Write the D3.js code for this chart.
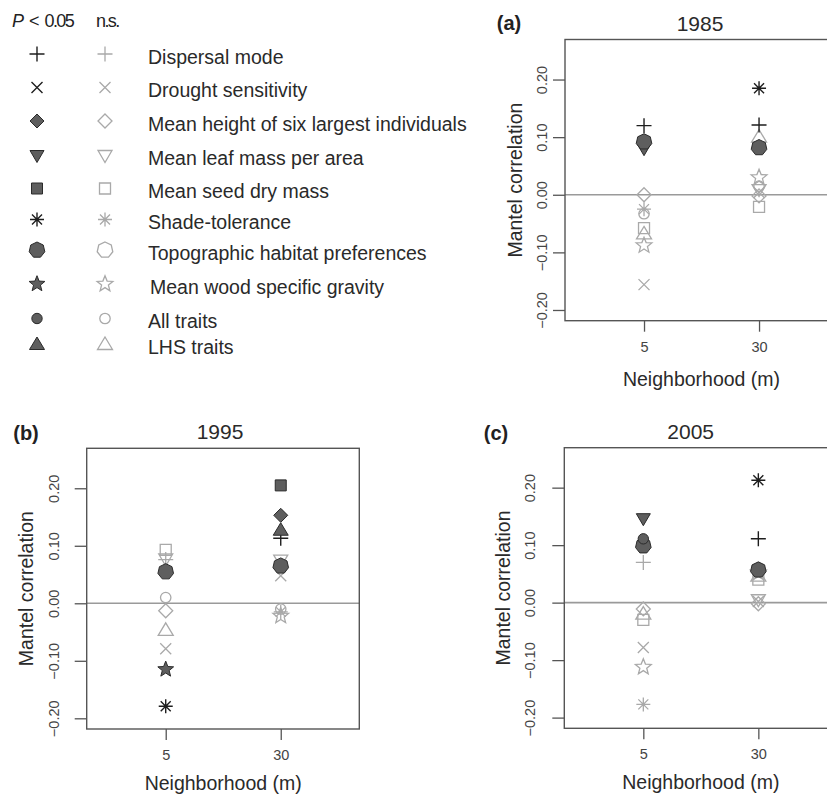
<!DOCTYPE html>
<html>
<head>
<meta charset="utf-8">
<script src="https://cdn.jsdelivr.net/npm/d3@7"></script>
<style>
  body { margin: 0; background: #fff; }
  svg { display: block; font-family: "Liberation Sans", Arial, Helvetica, sans-serif; }
</style>
</head>
<body>
<script>
// traits, in legend order
const traits = ["Dispersal mode", "Drought sensitivity", "Mean height of six largest individuals",
  "Mean leaf mass per area", "Mean seed dry mass", "Shade-tolerance",
  "Topographic habitat preferences", "Mean wood specific gravity", "All traits", "LHS traits"];
const shapes = ["plus", "cross", "diamond", "triDown", "square", "asterisk", "hepta", "star", "circle", "triUp"];
const neighborhoods = ["5", "30"];
const years = ["1985", "1995", "2005"];
const letters = ["(a)", "(b)", "(c)"];
const yTicks = [-0.2, -0.1, 0, 0.1, 0.2];

// Mantel correlations, [5 m, 30 m], one value per trait
const mantel1985 = [
  [0.120, -0.156, 0.000, 0.080, -0.058, -0.025, 0.092, -0.088, -0.033, -0.068],
  [0.121, 0.004, -0.002, 0.009, -0.021, 0.185, 0.082, 0.030, 0.015, 0.100]
];
const sig1985 = [
  [1, 0, 0, 1, 0, 0, 1, 0, 0, 0],
  [1, 0, 0, 0, 0, 1, 1, 0, 0, 0]
];
const mantel1995 = [
  [0.076, -0.079, -0.013, 0.077, 0.093, -0.179, 0.055, -0.115, 0.010, -0.047],
  [0.113, 0.048, 0.153, 0.075, 0.205, -0.015, 0.065, -0.022, -0.010, 0.127]
];
const sig1995 = [
  [0, 0, 0, 0, 0, 1, 1, 1, 0, 0],
  [1, 0, 1, 0, 1, 0, 1, 0, 0, 1]
];
const mantel2005 = [
  [0.070, -0.078, -0.011, 0.146, -0.030, -0.177, 0.099, -0.112, 0.111, -0.020],
  [0.111, 0.002, -0.002, 0.005, 0.040, 0.213, 0.057, 0.052, 0.055, 0.046]
];
const sig2005 = [
  [0, 0, 0, 1, 0, 0, 1, 0, 1, 0],
  [1, 0, 0, 0, 0, 1, 1, 0, 0, 0]
];
const mantel = [mantel1985, mantel1995, mantel2005];
const sig = [sig1985, sig1995, sig2005];

const width = 827, height = 794;
const FILL = "#5e5e5e", EDGE = "#2b2b2b", DARK = "#1e1e1e", LIGHT = "#a9a9a9";

const svg = d3.select("body").append("svg")
  .attr("width", width).attr("height", height)
  .attr("viewBox", `0 0 ${width} ${height}`);

// symbol outlines, centred on 0,0
function shapePath(s) {
  const p = d3.path();
  if (s === "plus") { p.moveTo(-7.5, 0); p.lineTo(7.5, 0); p.moveTo(0, -7.5); p.lineTo(0, 7.5); }
  else if (s === "cross") { p.moveTo(-5.5, -5.5); p.lineTo(5.5, 5.5); p.moveTo(-5.5, 5.5); p.lineTo(5.5, -5.5); }
  else if (s === "asterisk") {
    p.moveTo(-7, 0); p.lineTo(7, 0); p.moveTo(0, -7); p.lineTo(0, 7);
    p.moveTo(-5, -5); p.lineTo(5, 5); p.moveTo(-5, 5); p.lineTo(5, -5);
  }
  else if (s === "diamond") { p.moveTo(0, -7); p.lineTo(7, 0); p.lineTo(0, 7); p.lineTo(-7, 0); p.closePath(); }
  else if (s === "triDown") { p.moveTo(-7, -5); p.lineTo(7, -5); p.lineTo(0, 7); p.closePath(); }
  else if (s === "triUp") { p.moveTo(0, -7.5); p.lineTo(7.5, 5); p.lineTo(-7.5, 5); p.closePath(); }
  else if (s === "square") { p.rect(-5.5, -5.5, 11, 11); }
  else if (s === "circle") { p.arc(0, 0, 5.2, 0, 2 * Math.PI); }
  else if (s === "hepta") {
    d3.range(7).forEach(i => {
      const a = -Math.PI / 2 + i * 2 * Math.PI / 7;
      i ? p.lineTo(8 * Math.cos(a), 8 * Math.sin(a)) : p.moveTo(8 * Math.cos(a), 8 * Math.sin(a));
    });
    p.closePath();
  }
  else if (s === "star") {
    d3.range(10).forEach(i => {
      const a = -Math.PI / 2 + i * Math.PI / 5, r = i % 2 ? 3.6 : 8.3;
      i ? p.lineTo(r * Math.cos(a), r * Math.sin(a)) : p.moveTo(r * Math.cos(a), r * Math.sin(a));
    });
    p.closePath();
  }
  return p.toString();
}
const lineOnly = s => s === "plus" || s === "cross" || s === "asterisk";

function drawSymbol(g, s, filled) {
  const path = g.append("path").attr("d", shapePath(s));
  if (lineOnly(s)) {
    path.attr("fill", "none").attr("stroke", filled ? DARK : LIGHT).attr("stroke-width", filled ? 1.4 : 1.3);
  } else if (filled) {
    path.attr("fill", FILL).attr("stroke", EDGE).attr("stroke-width", 1);
  } else {
    path.attr("fill", "none").attr("stroke", LIGHT).attr("stroke-width", 1.3);
  }
}

// ---- legend ----
const legend = svg.append("g").attr("class", "legend");
const head = legend.append("text").attr("x", 12).attr("y", 27)
  .attr("font-size", 18).attr("fill", "#222");
head.append("tspan").attr("font-style", "italic").text("P");
head.append("tspan").text(" < ");
head.append("tspan").attr("letter-spacing", -1.6).text("0.05");
legend.append("text").attr("x", 96).attr("y", 27).attr("font-size", 18)
  .attr("letter-spacing", -1.6).attr("fill", "#222").text("n.s.");

const rowY = [54, 87.5, 121, 155.5, 188.5, 219.5, 250, 284, 318.5, 344.5];
traits.forEach((t, i) => {
  drawSymbol(legend.append("g").attr("transform", `translate(37,${rowY[i]})`), shapes[i], true);
  drawSymbol(legend.append("g").attr("transform", `translate(105,${rowY[i]})`), shapes[i], false);
  legend.append("text").attr("x", i === 7 ? 150 : 148).attr("y", rowY[i] + 3)
    .attr("dy", "0.35em").attr("font-size", 19.5).attr("fill", "#2a2a2a").text(t);
});

// ---- panels ----
const panels = [
  {x0: 565, y0: 39.5, x1: 837.6, y1: 320.7, tickOff: 23, labOff: 50, titleX: 700, titleY: 23, letX: 509, letY: 23, xlabY: 379},
  {x0: 86.7, y0: 448.3, x1: 359.3, y1: 729, tickOff: 33, labOff: 61, titleX: 220, titleY: 431, letX: 26, letY: 433, xlabY: 783},
  {x0: 564.3, y0: 447.7, x1: 836.9, y1: 728.3, tickOff: 34, labOff: 61, titleX: 690.7, titleY: 431, letX: 496, letY: 433, xlabY: 782}
];

panels.forEach((pn, k) => {
  const g = svg.append("g");
  const x = d3.scaleLinear().domain([0.313, 2.683]).range([pn.x0, pn.x1]);
  const y = d3.scaleLinear().domain([-0.2186, 0.2695]).range([pn.y1, pn.y0]);

  // zero line
  g.append("line").attr("x1", pn.x0).attr("x2", pn.x1).attr("y1", y(0)).attr("y2", y(0))
    .attr("stroke", "#9a9a9a").attr("stroke-width", 1.6);

  // y axis
  const ya = g.append("g").attr("transform", `translate(${pn.x0},0)`)
    .call(d3.axisLeft(y).tickValues(yTicks).tickSize(12).tickFormat(d => d3.format(".2f")(d).replace("-", "\u2212")));
  ya.select(".domain").remove();
  ya.selectAll(".tick line").attr("stroke", "#555").attr("stroke-width", 1.3);
  ya.selectAll(".tick text")
    .attr("x", null).attr("dy", null)
    .attr("transform", `translate(${-pn.tickOff},0) rotate(-90)`)
    .attr("text-anchor", "middle").attr("dominant-baseline", "central")
    .attr("font-size", 14.5).attr("fill", "#444").attr("font-family", null);

  // x axis
  const xa = g.append("g").attr("transform", `translate(0,${pn.y1})`)
    .call(d3.axisBottom(x).tickValues([1, 2]).tickSize(11).tickFormat((d, i) => neighborhoods[i]));
  xa.select(".domain").remove();
  xa.selectAll(".tick line").attr("stroke", "#555").attr("stroke-width", 1.3);
  xa.selectAll(".tick text").attr("y", 26).attr("dy", null).attr("dominant-baseline", "central")
    .attr("font-size", 14.5).attr("fill", "#444").attr("font-family", null);

  // box
  g.append("rect").attr("x", pn.x0).attr("y", pn.y0)
    .attr("width", pn.x1 - pn.x0).attr("height", pn.y1 - pn.y0)
    .attr("fill", "none").attr("stroke", "#555").attr("stroke-width", 1.4);

  // labels
  g.append("text").attr("transform", `translate(${pn.x0 - pn.labOff},${(pn.y0 + pn.y1) / 2}) rotate(-90)`)
    .attr("text-anchor", "middle").attr("dominant-baseline", "central")
    .attr("font-size", 19.5).attr("fill", "#2a2a2a").text("Mantel correlation");
  g.append("text").attr("x", (pn.x0 + x(2.683 - 0.0)) / 2).attr("x", x(1.5)).attr("y", pn.xlabY)
    .attr("text-anchor", "middle").attr("dominant-baseline", "central")
    .attr("font-size", 19.5).attr("fill", "#2a2a2a").text("Neighborhood (m)");
  g.append("text").attr("x", pn.titleX).attr("y", pn.titleY)
    .attr("text-anchor", "middle").attr("dominant-baseline", "central")
    .attr("font-size", 21).attr("fill", "#2a2a2a").text(years[k]);
  g.append("text").attr("x", pn.letX).attr("y", pn.letY)
    .attr("text-anchor", "middle").attr("dominant-baseline", "central")
    .attr("font-size", 20).attr("font-weight", "bold").attr("fill", "#222").text(letters[k]);

  // points: non-significant first, significant drawn on top
  const pts = [];
  neighborhoods.forEach((n, j) => traits.forEach((t, i) =>
    pts.push({xi: j + 1, v: mantel[k][j][i], s: shapes[i], sig: sig[k][j][i]})));
  pts.sort((a, b) => a.sig - b.sig);
  pts.forEach(d => drawSymbol(g.append("g").attr("transform", `translate(${x(d.xi)},${y(d.v)})`), d.s, d.sig === 1));
});
</script>
</body>
</html>
